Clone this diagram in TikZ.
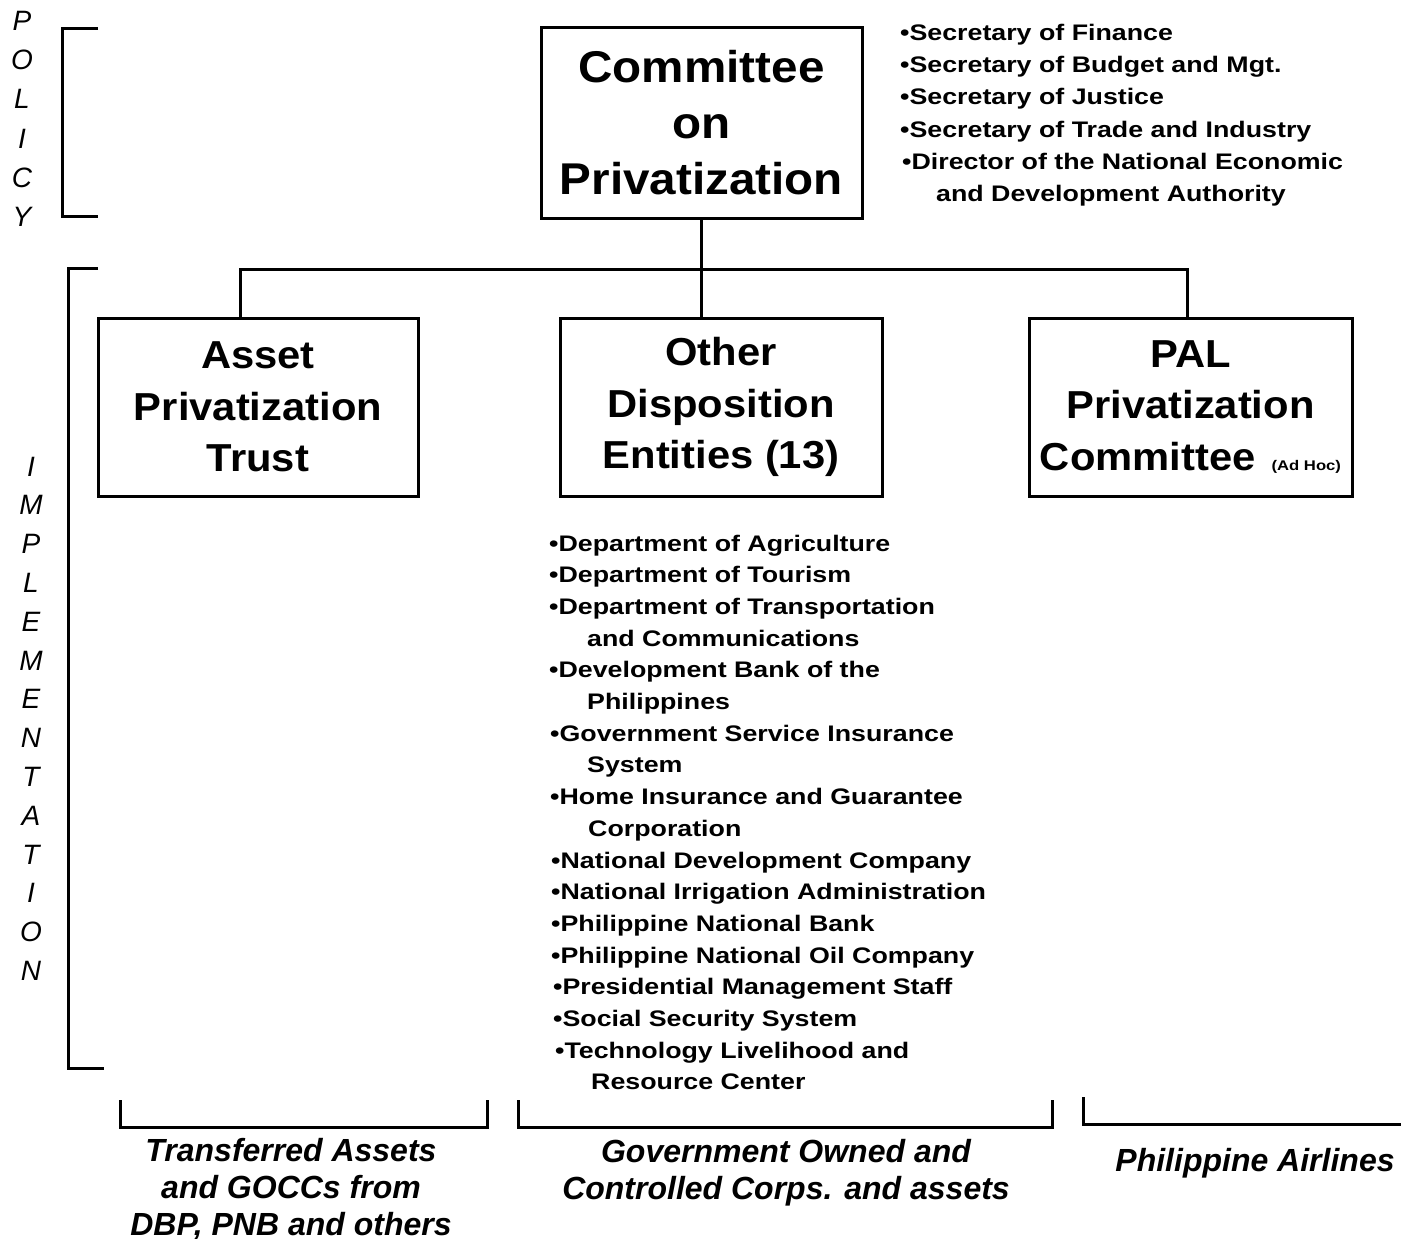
\documentclass[tikz,border=0pt]{standalone}
\usepackage{fontspec}
\setmainfont{Liberation Sans}
\newfontfamily\titlefont[FakeStretch=1.07]{Liberation Sans Bold}
\newfontfamily\listfont[FakeStretch=1.19]{Liberation Sans Bold}
\newfontfamily\labelfont{Liberation Sans Bold Italic}
\newfontfamily\sidefont{Liberation Sans Italic}
\tikzset{
  orgbox/.style={draw, line width=3pt, align=center, inner sep=2pt},
  conn/.style={line width=3pt},
  brk/.style={line width=3pt},
  listtext/.style={font=\listfont\fontsize{22.5}{26}\selectfont, inner sep=0pt, anchor=base west},
  sideletter/.style={font=\sidefont\fontsize{28}{30}\selectfont, inner sep=0pt, anchor=base},
  lab/.style={font=\labelfont\fontsize{32}{37}\selectfont, inner sep=0pt, anchor=base},
}
\begin{document}
\begin{tikzpicture}[x=1pt,y=-1pt]
\useasboundingbox (0,0) rectangle (1401,1239);
\fill[white] (0,0) rectangle (1401,1239);

% side letters
\foreach \l [count=\i from 0] in {P,O,L,I,C,Y}
  \node[sideletter] (pol\i) at (22,{31+39*\i}) {\l};
\foreach \l [count=\i from 0] in {I,M,P,L,E,M,E,N,T,A,T,I,O,N}
  \node[sideletter] (imp\i) at (31,{476+38.8*\i}) {\l};

% brackets
\draw[brk] (98,29) -| (62,216) -- (98,216);
\draw[brk] (98,268) -| (68,1068) -- (104,1068);
\draw[brk] (120,1100) |- (487,1127) -- (487,1100);
\draw[brk] (518,1100) |- (1052,1127) -- (1052,1100);
\draw[brk] (1083,1097) |- (1401,1124);

% boxes
\node[orgbox, minimum width=321pt, minimum height=190pt,
      font=\titlefont\fontsize{44.5}{56}\selectfont] (cop) at (701.5,123)
      {Committee\\on\\Privatization};
\node[orgbox, minimum width=320pt, minimum height=178pt,
      font=\titlefont\fontsize{39}{51.5}\selectfont] (apt) at (258,407)
      {Asset\\Privatization\\Trust};
\node[orgbox, minimum width=322pt, minimum height=178pt,
      font=\titlefont\fontsize{39}{51.5}\selectfont] (ode) at (721,407)
      {Other\\Disposition\\Entities (13)};
\node[orgbox, minimum width=323pt, minimum height=178pt,
      font=\titlefont\fontsize{39}{51.5}\selectfont] (pal) at (1190.5,407)
      {PAL\\Privatization\\Committee\hspace{16pt}{\listfont\fontsize{14}{16}\selectfont(Ad Hoc)}};

% connectors
\coordinate (ja) at (240,269);
\coordinate (jc) at (1187,269);
\draw[conn] (cop.south) -- (cop.south |- ode.north);
\draw[conn] (ja |- apt.north) -- (ja) -- (jc) -- (jc |- pal.north);

% committee members
\foreach \xx/\t [count=\i from 0] in {
  900/{•Secretary of Finance},
  900/{•Secretary of Budget and Mgt.},
  900/{•Secretary of Justice},
  900/{•Secretary of Trade and Industry},
  902/{•Director of the National Economic},
  936/{and Development Authority}}
  \node[listtext] (sl\i) at (\xx,{41+32*\i}) {\t};

% other disposition entities
\foreach \xx/\t [count=\i from 0] in {
  549/{•Department of Agriculture},
  549/{•Department of Tourism},
  549/{•Department of Transportation},
  587/{and Communications},
  549/{•Development Bank of the},
  587/{Philippines},
  550/{•Government Service Insurance},
  587/{System},
  550/{•Home Insurance and Guarantee},
  588/{Corporation},
  551/{•National Development Company},
  551/{•National Irrigation Administration},
  551/{•Philippine National Bank},
  551/{•Philippine National Oil Company},
  553/{•Presidential Management Staff},
  553/{•Social Security System},
  555/{•Technology Livelihood and},
  591/{Resource Center}}
  \node[listtext] (dl\i) at (\xx,{551+31.7*\i}) {\t};

% bottom labels
\node[lab] (tr1) at (291,1161) {Transferred Assets};
\node[lab] (tr2) at (291,1198) {and GOCCs from};
\node[lab] (tr3) at (291,1235) {DBP, PNB and others};
\node[lab] (go1) at (786,1162) {Government Owned and};
\node[lab] (go2) at (786,1199) {Controlled Corps. and assets};
\node[lab] (pa1) at (1255,1171) {Philippine Airlines};
\end{tikzpicture}
\end{document}
